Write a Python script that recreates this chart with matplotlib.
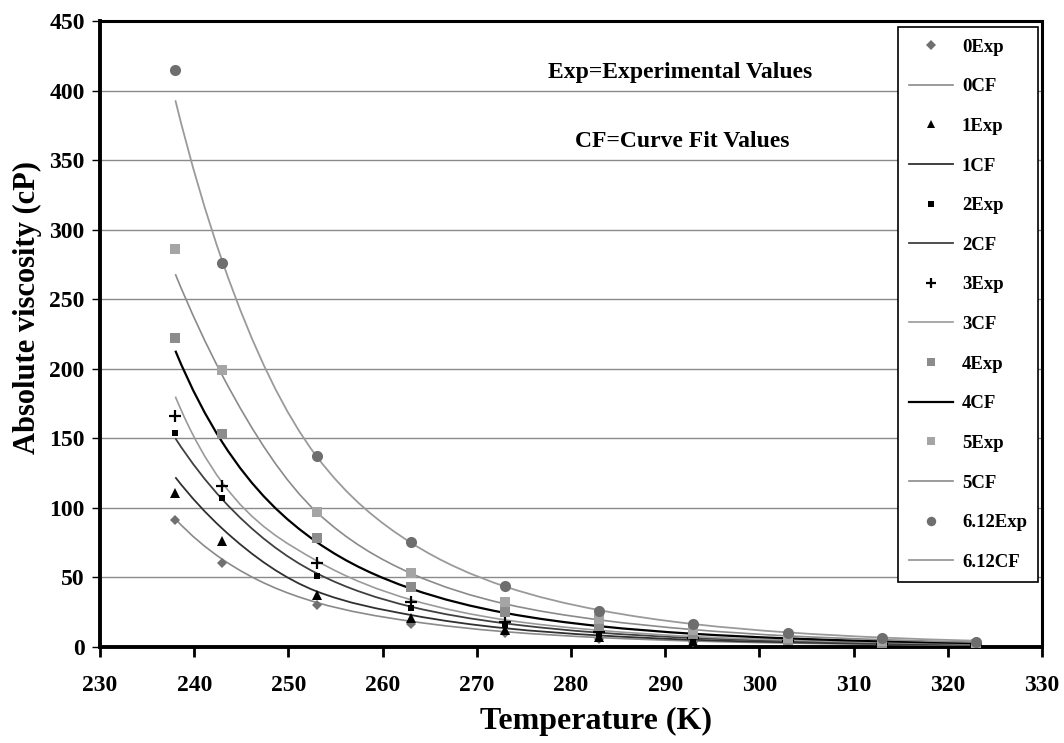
import math
import matplotlib
matplotlib.use("Agg")
import matplotlib.pyplot as plt
from matplotlib.path import Path
from matplotlib.patches import PathPatch
from matplotlib.lines import Line2D

# температуры измерений, K
temps = [238, 243, 253, 263, 273, 283, 293, 303, 313, 323]

# экспериментальные значения вязкости, cP
exp_0 = [91.5, 60.5, 30.5, 16.5, 10.0, 6.0, 3.8, 2.4, 1.6, 1.1]
exp_1 = [111, 76, 37.5, 20.5, 12.0, 7.2, 4.5, 2.8, 1.8, 1.2]
exp_2 = [154, 107, 51, 28, 16, 9.5, 5.5, 1.0, 0.5, 0.3]
exp_3 = [166, 116, 60.5, 32, 18, 11, 6.5, 4.0, 2.5, 1.6]
exp_4 = [222, 153, 78, 43, 25, 15, 9.5, 5.0, 3.0, 1.8]
exp_5 = [286, 199, 97, 53, 32, 20, 12.5, 6.5, 4.0, 2.5]
exp_612 = [415, 276, 137, 75.5, 43.5, 26, 16.3, 10.3, 6.5, 3.4]

# значения по аппроксимации
cf_0 = [92, 63, 32, 18.5, 11, 6.8, 4.3, 2.8, 1.9, 1.3]
cf_1 = [122, 85, 40, 23, 13.5, 8.3, 5.2, 3.4, 2.3, 1.6]
cf_2 = [150, 106, 53, 29, 17, 10.3, 6.5, 4.2, 2.8, 1.9]
cf_3 = [180, 118, 62, 34, 19.5, 12, 7.5, 5.0, 3.3, 2.2]
cf_4 = [213, 147, 75.5, 42, 24.5, 15, 9.5, 6.2, 4.1, 2.8]
cf_5 = [268, 195, 97, 53, 31, 19.5, 12.5, 8.0, 5.3, 3.5]
cf_612 = [393, 277, 137, 75, 43.5, 26.5, 16.5, 10.5, 6.8, 4.5]

labels = ["0", "1", "2", "3", "4", "5", "6.12"]
exp_data = [exp_0, exp_1, exp_2, exp_3, exp_4, exp_5, exp_612]
cf_data = [cf_0, cf_1, cf_2, cf_3, cf_4, cf_5, cf_612]

# стиль маркеров: (marker, size, color)
exp_styles = [
    ("D", 5.5, "#707070"),
    ("^", 7.5, "#000000"),
    ("s", 5.0, "#000000"),
    ("+", 9.0, "#000000"),
    ("s", 7.5, "#8c8c8c"),
    ("s", 7.5, "#a5a5a5"),
    ("o", 8.0, "#6e6e6e"),
]
cf_styles = [
    ("#8a8a8a", 1.2),
    ("#303030", 1.3),
    ("#404040", 1.3),
    ("#9a9a9a", 1.2),
    ("#000000", 1.6),
    ("#8a8a8a", 1.2),
    ("#9a9a9a", 1.3),
]

plt.rcParams["font.family"] = ["Liberation Serif", "DejaVu Serif"]
plt.rcParams["font.weight"] = "bold"


def smooth_path(xs, ys):
    # гладкая кривая через точки: сегменты Безье, касательные по ln(y)
    n = len(xs)
    ly = [math.log(v) for v in ys]
    h = [xs[i + 1] - xs[i] for i in range(n - 1)]
    d = [(ly[i + 1] - ly[i]) / h[i] for i in range(n - 1)]
    g = [0.0] * n
    for i in range(1, n - 1):
        g[i] = (d[i - 1] * h[i] + d[i] * h[i - 1]) / (h[i - 1] + h[i])
    g[0] = ((2 * h[0] + h[1]) * d[0] - h[0] * d[1]) / (h[0] + h[1])
    g[-1] = ((2 * h[-1] + h[-2]) * d[-1] - h[-1] * d[-2]) / (h[-1] + h[-2])
    m = [g[i] * ys[i] for i in range(n)]
    verts = [(xs[0], ys[0])]
    codes = [Path.MOVETO]
    for i in range(n - 1):
        c1 = (xs[i] + h[i] / 3, ys[i] + m[i] * h[i] / 3)
        c2 = (xs[i + 1] - h[i] / 3, ys[i + 1] - m[i + 1] * h[i] / 3)
        verts += [c1, c2, (xs[i + 1], ys[i + 1])]
        codes += [Path.CURVE4] * 3
    return Path(verts, codes)


fig = plt.figure(figsize=(10.64, 7.43), dpi=100)
ax = fig.add_axes([100 / 1064, 96 / 743, 942 / 1064, 626 / 743])

handles = []
for lab, ye, yc, (mk, ms, col), (lc, lw) in zip(labels, exp_data, cf_data, exp_styles, cf_styles):
    ax.plot(temps, ye, linestyle="none", marker=mk, markersize=ms, color=col,
            markeredgewidth=1.6 if mk == "+" else 0, zorder=4)
    ax.add_patch(PathPatch(smooth_path(temps, yc), fill=False,
                           edgecolor=lc, linewidth=lw, zorder=3))
    handles.append(Line2D([], [], linestyle="none", marker=mk, markersize=ms * 0.85,
                          color=col, markeredgewidth=1.6 if mk == "+" else 0,
                          label=f"{lab}Exp"))
    handles.append(Line2D([], [], color=lc, linewidth=lw, label=f"{lab}CF"))

ax.set_xlim(230, 330)
ax.set_ylim(0, 450)
ax.set_xticks(range(230, 331, 10))
ax.set_yticks(range(0, 451, 50))
ax.yaxis.grid(True, color="#8a8a8a", linewidth=1.0)
ax.set_axisbelow(True)

ax.tick_params(axis="both", direction="out", length=7, width=2, labelsize=17)
ax.tick_params(axis="x", pad=13)
ax.tick_params(axis="y", length=6, width=1, pad=5)
for side in ["left", "bottom"]:
    ax.spines[side].set_linewidth(2.8)
for side in ["top", "right"]:
    ax.spines[side].set_linewidth(2.2)

ax.set_xlabel("Temperature (K)", fontsize=23, fontweight="bold")
ax.set_ylabel("Absolute viscosity (cP)", fontsize=22, fontweight="bold")
ax.xaxis.set_label_coords(0.527, -0.096)
ax.yaxis.set_label_coords(-0.062, 0.543)

ax.text(0.616, 0.917, "Exp=Experimental Values", transform=ax.transAxes,
        ha="center", va="center", fontsize=17, fontweight="bold")
ax.text(0.618, 0.808, "CF=Curve Fit Values", transform=ax.transAxes,
        ha="center", va="center", fontsize=17, fontweight="bold")

leg = ax.legend(handles=handles, loc="upper right", bbox_to_anchor=(0.996, 0.99),
                fontsize=13.5, frameon=True, fancybox=False, framealpha=1,
                edgecolor="black", labelspacing=1.2, handlelength=2.3,
                handletextpad=0.5, borderpad=0.6, borderaxespad=0)
leg.get_frame().set_linewidth(1.2)
leg.set_zorder(5)

fig.savefig("out.png", dpi=100)
